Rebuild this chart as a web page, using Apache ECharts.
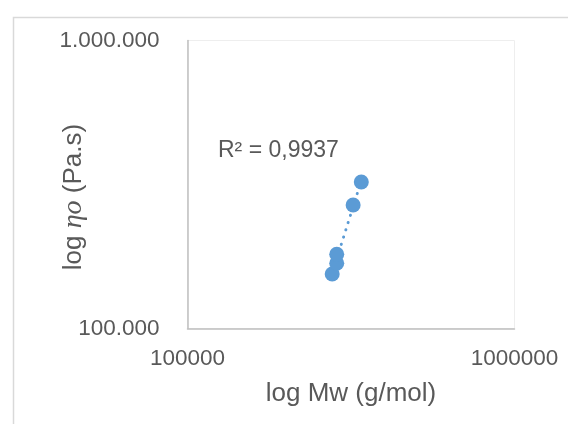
<!DOCTYPE html>
<html>
<head>
<meta charset="utf-8">
<script src="https://cdn.jsdelivr.net/npm/echarts@6/dist/echarts.min.js"></script>
<style>
  html, body { margin: 0; padding: 0; background: #ffffff; }
  #chart { width: 568px; height: 424px; }
</style>
</head>
<body>
<div id="chart"></div>
<script>
// Weight-average molar mass (g/mol) and zero-shear viscosity (Pa.s)
const mwValues = [277000, 286000, 286000, 321000, 340000];
const etaValues = [154600, 168400, 181000, 268500, 322600];

// Axis ranges (log scale, decades)
const xTicks = [100000, 1000000];
const yTicks = [100000, 1000000];

const r2Label = 'R² = 0,9937';

const FONT = '"Liberation Sans", Arial, sans-serif';
const TEXT = '#595959';
const BLUE = '#5B9BD5';

// Power-law trendline: least squares on log10 values
const lx = mwValues.map(v => Math.log10(v));
const ly = etaValues.map(v => Math.log10(v));
const mx = lx.reduce((a, b) => a + b, 0) / lx.length;
const my = ly.reduce((a, b) => a + b, 0) / ly.length;
let sxy = 0, sxx = 0;
for (let i = 0; i < lx.length; i++) {
  sxy += (lx[i] - mx) * (ly[i] - my);
  sxx += (lx[i] - mx) * (lx[i] - mx);
}
const slope = sxy / sxx;
const icpt = my - slope * mx;
const xMin = Math.min(...mwValues), xMax = Math.max(...mwValues);
const trend = [xMin, xMax].map(x => [x, Math.pow(10, icpt + slope * Math.log10(x))]);

const points = mwValues.map((x, i) => [x, etaValues[i]]);

const dotted = (v) => String(Math.round(v)).replace(/\B(?=(\d{3})+(?!\d))/g, '.');

const chart = echarts.init(document.getElementById('chart'));
chart.setOption({
  animation: false,
  backgroundColor: '#ffffff',
  grid: {
    left: 187.5, right: 53.5, top: 40.5, bottom: 95.5,
    show: true, borderColor: '#eeeeee', borderWidth: 1, backgroundColor: 'transparent'
  },
  xAxis: {
    type: 'log', logBase: 10, min: xTicks[0], max: xTicks[1],
    axisLine: { show: true, lineStyle: { color: '#bfbfbf', width: 1.5 } },
    axisTick: { show: false },
    splitLine: { show: false },
    axisLabel: {
      show: true, showMinLabel: true, showMaxLabel: true,
      margin: 19, fontSize: 22.5, fontFamily: FONT, color: TEXT,
      formatter: v => String(Math.round(v))
    }
  },
  yAxis: {
    type: 'log', logBase: 10, min: yTicks[0], max: yTicks[1],
    axisLine: { show: true, lineStyle: { color: '#bfbfbf', width: 1.5 } },
    axisTick: { show: false },
    splitLine: { show: false },
    axisLabel: {
      show: true, showMinLabel: true, showMaxLabel: true,
      margin: 28, fontSize: 22.5, fontFamily: FONT, color: TEXT,
      formatter: v => dotted(v)
    }
  },
  series: [
    {
      type: 'line',
      data: trend,
      symbol: 'none',
      silent: true,
      z: 1,
      lineStyle: { color: BLUE, width: 3, type: [0.1, 7.5], cap: 'round' }
    },
    {
      type: 'scatter',
      data: points,
      symbol: 'circle',
      symbolSize: 15,
      z: 2,
      itemStyle: { color: BLUE, opacity: 1 }
    }
  ],
  graphic: [
    {
      type: 'rect', left: 11, top: 15, z: -10, silent: true,
      shape: { width: 600, height: 450 },
      style: { fill: 'none', stroke: '#d9d9d9', lineWidth: 1.5 }
    },
    {
      type: 'text', x: 351, y: 394, silent: true,
      style: { text: 'log Mw (g/mol)', fontSize: 26, fontFamily: FONT, fill: TEXT,
               align: 'center', verticalAlign: 'middle' }
    },
    {
      type: 'text', x: 74, y: 197, rotation: Math.PI / 2, silent: true,
      style: {
        text: '{n|log }{i|ηo}{n| (Pa.s)}',
        align: 'center', verticalAlign: 'middle', fill: TEXT,
        rich: {
          n: { fontSize: 26, fontFamily: FONT, fill: TEXT },
          i: { fontSize: 28, fontFamily: '"Liberation Serif", "DejaVu Serif", serif',
               fontStyle: 'italic', fill: TEXT }
        }
      }
    },
    {
      type: 'text', x: 218, y: 151, silent: true,
      style: { text: r2Label, fontSize: 23, fontFamily: FONT, fill: TEXT,
               align: 'left', verticalAlign: 'middle' }
    }
  ]
});
</script>
</body>
</html>
